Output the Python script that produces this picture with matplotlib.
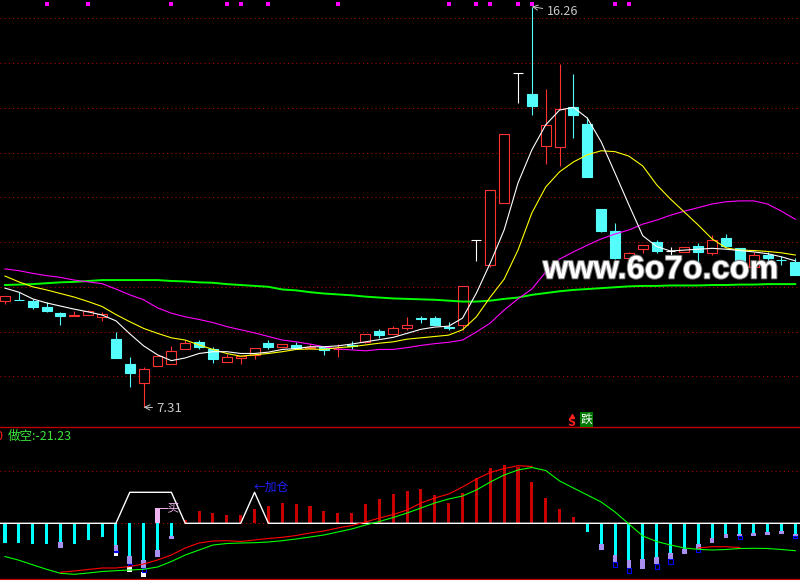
import numpy as np
import matplotlib
matplotlib.use("Agg")
import matplotlib.pyplot as plt
import matplotlib.patheffects as pe
from matplotlib.patches import Rectangle
from matplotlib.lines import Line2D

plt.rcParams['font.family'] = ['Noto Sans CJK SC', 'DejaVu Sans']

# ---- price panel: daily candles ----
opens = [9.69, 9.71, 9.69, 9.55, 9.42, 9.35, 9.36, 9.33, 8.83, 8.28,
         7.84, 8.24, 8.28, 8.60, 8.76, 8.60, 8.31, 8.40, 8.47, 8.74,
         8.66, 8.69, 8.64, 8.66, 8.60, 8.69, 8.77, 9.01, 8.94, 9.09,
         9.30, 9.30, 9.10, 9.14, 11.05, 10.48, 11.87, 14.77, 14.31, 13.15,
         13.13, 14.01, 13.64, 11.73, 11.25, 10.65, 10.85, 11.00, 10.80, 10.77,
         10.91, 10.75, 11.09, 10.87, 10.44, 10.71, 10.60, 10.56]
highs = [9.79, 9.88, 9.72, 9.67, 9.44, 9.46, 9.48, 9.44, 9.00, 8.43,
         8.21, 8.45, 8.67, 8.80, 8.80, 8.65, 8.50, 8.45, 8.64, 8.80,
         8.73, 8.76, 8.72, 8.66, 8.72, 8.79, 8.94, 9.05, 9.12, 9.32,
         9.35, 9.35, 9.21, 10.02, 11.05, 12.16, 13.41, 14.77, 16.26, 14.42,
         14.98, 14.76, 13.79, 11.73, 11.42, 10.78, 10.93, 11.05, 10.90, 10.88,
         10.97, 11.16, 11.18, 10.87, 10.78, 10.78, 10.69, 10.64]
lows = [9.61, 9.70, 9.50, 9.44, 9.15, 9.35, 9.36, 9.24, 8.42, 7.75,
        7.31, 8.24, 8.28, 8.60, 8.60, 8.30, 8.31, 8.28, 8.38, 8.60,
        8.66, 8.60, 8.60, 8.47, 8.43, 8.60, 8.74, 8.85, 8.94, 9.04,
        9.20, 9.15, 9.04, 9.04, 10.58, 10.45, 11.87, 14.11, 13.84, 12.75,
        12.71, 13.33, 12.46, 11.22, 10.62, 10.60, 10.76, 10.75, 10.69, 10.77,
        10.53, 10.70, 10.90, 10.56, 10.44, 10.58, 10.48, 10.27]
closes = [9.79, 9.70, 9.55, 9.47, 9.35, 9.36, 9.45, 9.39, 8.42, 8.08,
          8.16, 8.45, 8.56, 8.74, 8.66, 8.39, 8.43, 8.45, 8.64, 8.65,
          8.72, 8.64, 8.65, 8.59, 8.61, 8.68, 8.94, 8.92, 9.07, 9.14,
          9.27, 9.15, 9.09, 10.02, 11.05, 12.16, 13.41, 14.77, 14.03, 13.61,
          13.97, 13.85, 12.46, 11.25, 10.65, 10.75, 10.93, 10.81, 10.80, 10.88,
          10.77, 11.05, 10.91, 10.58, 10.70, 10.65, 10.59, 10.27]

ma5 = [9.97, 9.88, 9.73, 9.64, 9.57, 9.50, 9.44, 9.37, 9.24, 8.95,
       8.68, 8.48, 8.35, 8.41, 8.51, 8.55, 8.55, 8.51, 8.51, 8.54,
       8.60, 8.62, 8.66, 8.66, 8.68, 8.72, 8.77, 8.82, 8.87, 8.96,
       9.05, 9.10, 9.12, 9.30, 9.86, 10.53, 11.27, 12.32, 13.06, 13.62,
       13.95, 14.01, 13.77, 13.24, 12.54, 11.83, 11.14, 10.90, 10.80, 10.82,
       10.84, 10.86, 10.84, 10.81, 10.78, 10.74, 10.67, 10.58]
ma10 = [10.24, 10.11, 10.00, 9.93, 9.85, 9.77, 9.67, 9.56, 9.38, 9.22,
        9.07, 8.96, 8.86, 8.81, 8.70, 8.60, 8.51, 8.45, 8.48, 8.51,
        8.55, 8.60, 8.61, 8.60, 8.64, 8.66, 8.70, 8.74, 8.77, 8.83,
        8.86, 8.89, 8.92, 9.04, 9.33, 9.77, 10.17, 10.82, 11.65, 12.23,
        12.57, 12.79, 12.95, 13.04, 13.02, 12.92, 12.70, 12.28, 11.96, 11.67,
        11.38, 11.07, 10.87, 10.82, 10.81, 10.79, 10.76, 10.71]
ma20 = [10.40, 10.36, 10.30, 10.25, 10.21, 10.15, 10.11, 10.07, 9.95, 9.82,
        9.71, 9.53, 9.41, 9.33, 9.27, 9.20, 9.11, 9.04, 8.97, 8.89,
        8.81, 8.77, 8.72, 8.66, 8.61, 8.59, 8.57, 8.60, 8.60, 8.64,
        8.69, 8.73, 8.76, 8.81, 8.99, 9.19, 9.48, 9.73, 9.95, 10.33,
        10.62, 10.78, 10.93, 11.07, 11.18, 11.27, 11.40, 11.49, 11.60, 11.69,
        11.77, 11.85, 11.90, 11.92, 11.92, 11.85, 11.69, 11.51]
ma60 = [10.04, 10.05, 10.06, 10.08, 10.10, 10.11, 10.13, 10.15, 10.15, 10.15,
        10.15, 10.15, 10.13, 10.12, 10.10, 10.09, 10.06, 10.04, 10.02, 10.00,
        9.94, 9.92, 9.88, 9.85, 9.83, 9.81, 9.78, 9.76, 9.74, 9.73,
        9.72, 9.71, 9.69, 9.67, 9.67, 9.69, 9.73, 9.76, 9.82, 9.86,
        9.90, 9.93, 9.95, 9.97, 9.99, 10.01, 10.02, 10.02, 10.03, 10.03,
        10.03, 10.04, 10.04, 10.05, 10.05, 10.06, 10.06, 10.06]

grid_prices = [8, 9, 10, 11, 12, 13, 14, 15, 16]
top_marks = [3, 6, 12, 16, 17, 19, 24, 32, 34, 35, 37, 38, 44, 45]
hi_idx, lo_idx = 38, 10

# ---- indicator panel ----
hist_up = [0, 0, 0, 0, 0, 0, 0, 0, 0, 0, 0, 0, 0, 3.0, 12.3, 10.0, 8.3, 8.3, 14.3, 17.3,
           20.3, 19.3, 17.3, 12.3, 10.3, 10.3, 19.3, 24.3, 29.3, 32.3,
           34.3, 28.3, 20.3, 30.3, 45.3, 55.3, 58.3, 56.3, 41.3, 25.3,
           14.3, 6.3, 0, 0, 0, 0, 0, 0, 0, 0, 0, 0, 0, 0, 0, 0, 0, 0]
hist_down = [19.4, 19.4, 20.4, 20.4, 18.4, 20.4, 16.4, 13.4, 21.7, 32.7,
             36.7, 26.7, 12.4, 0, 0, 0, 0, 0, 0, 0,
             0, 0, 0, 0, 0, 0, 0, 0, 0, 0,
             0, 0, 0, 0, 0, 0, 0, 0, 0, 0,
             0, 0, 8.4, 20.7, 31.7, 36.7, 35.7, 33.7, 29.7, 25.4,
             20.7, 14.7, 10.7, 10.7, 9.7, 8.7, 7.7, 10.7]
hist_purple = [0, 0, 0, 0, 6.0, 0, 0, 0, 5.7, 8.0,
               8.3, 6.7, 3.6, 0, 0, 0, 0, 0, 0, 0,
               0, 0, 0, 0, 0, 0, 0, 0, 0, 0,
               0, 0, 0, 0, 0, 0, 0, 0, 0, 0,
               0, 0, 0, 6.0, 7.3, 8.0, 10.0, 7.0, 6.0, 5.3,
               5.3, 4.7, 3.7, 2.0, 2.7, 2.7, 2.7, 2.0]
hist_blue = [0, 0, 0, 0, 0, 0, 0, 0, 1.3, 2.0,
             3.4, 0, 0, 0, 0, 0, 0, 0, 0, 0,
             0, 0, 0, 0, 0, 0, 0, 0, 0, 0,
             0, 0, 0, 0, 0, 0, 0, 0, 0, 0,
             0, 0, 0, 0, 4.4, 4.7, 0, 5.0, 4.7, 0,
             2.4, 0, 0, 2.7, 0, 0, 0, 1.5]
hist_white = [0, 0, 0, 0, 0, 0, 0, 0, 3.7, 5.7, 5.0] + [0] * 47
buy_idx, buy_height = 11, 15.3
signal = [0, 0, 0, 0, 0, 0, 0, 0, 0, 31, 31, 31, 31, 0, 0, 0, 0, 0, 31, 0] + [0] * 38
slow_line = [-33.2, -36.9, -41.5, -46.0, -50.0, -51.0, -49.7, -48.2, -47.4, -46.7,
             -46.0, -43.7, -38.2, -31.7, -26.7, -21.7, -20.2, -19.7, -19.4, -18.7,
             -17.4, -15.7, -13.7, -11.7, -8.7, -5.7, -1.7, 1.8, 5.8, 10.3,
             15.3, 20.3, 24.3, 27.3, 33.3, 41.3, 48.3, 53.3, 55.8, 52.8,
             42.3, 35.3, 28.3, 21.3, 11.3, -0.7, -12.7, -18.2, -21.7, -24.7,
             -26.0, -26.7, -26.2, -25.2, -25.0, -25.2, -26.2, -27.4]
nan = np.nan
fast_line = [nan, nan, nan, nan, -49.0, -47.7, -46.2, -44.7, -44.7, -43.2,
             -40.7, -36.7, -31.7, -24.7, -19.7, -17.7, -17.4, -18.2, -16.7, -15.2,
             -14.0, -12.2, -9.7, -7.7, -4.7, -2.2, 1.3, 5.3, 8.8, 13.3,
             20.3, 25.3, 29.3, 36.3, 44.3, 50.8, 54.8, 57.6, 56.8, nan,
             nan, nan, nan, nan, nan, nan, nan, nan, nan, nan,
             -24.7, -23.4, -23.4, -24.2, nan, nan, nan, nan]
short_text = "做空:-21.23"

# ---- colours ----
RED = '#FF3232'
CYAN = '#54FCFC'
GRID = '#B40000'
LABEL = '#C8C8C8'

W, H = 800, 580
PANEL_Y = 427


def fx(px):
    return px / W


def fy(py):
    return 1 - py / H


n = len(closes)
idx = np.arange(n)
X0, X1 = -0.36, 57.34

fig = plt.figure(figsize=(8, 5.8), dpi=100, facecolor='black')
ax = fig.add_axes([0, 1 - PANEL_Y / H, 1, PANEL_Y / H])
bx = fig.add_axes([0, 0, 1, 1 - PANEL_Y / H])
for a in (ax, bx):
    a.set_facecolor('black')
    a.set_xlim(X0, X1)
    a.set_axis_off()
ax.set_ylim(6.867, 16.409)
bx.set_ylim(-56.7, 96.3)

# grid
for p in grid_prices:
    ax.axhline(p, color=GRID, lw=0.75, ls=(0, (1, 3)), zorder=1)

# candles
body_w = 0.72
for i in range(n):
    o, h, l, c = opens[i], highs[i], lows[i], closes[i]
    if c > o:
        col, face = RED, 'black'
    elif c < o:
        col, face = CYAN, CYAN
    else:
        col, face = 'white', 'white'
    ax.vlines(i, l, h, color=col, lw=0.8, zorder=2)
    if c == o:
        ax.hlines(o, i - body_w / 2, i + body_w / 2, color=col, lw=0.8, zorder=2.5)
    else:
        ax.add_patch(Rectangle((i - body_w / 2, min(o, c)), body_w, abs(c - o),
                               facecolor=face, edgecolor=col, lw=0.8, zorder=2.5))

# moving averages
ax.plot(idx, ma60, color='#00FF00', lw=1.4, zorder=3)
ax.plot(idx, ma20, color='#FF00FF', lw=0.8, zorder=3)
ax.plot(idx, ma10, color='#FFFF00', lw=0.8, zorder=3)
ax.plot(idx, ma5, color='white', lw=0.8, zorder=3)

# signal squares along the top
ax.scatter(top_marks, [0.99] * len(top_marks), transform=ax.get_xaxis_transform(),
           marker='s', s=6, color='#FF00FF', linewidths=0, clip_on=False, zorder=4)

# high / low labels
ax.annotate(f"{highs[hi_idx]:.2f}", xy=(hi_idx, highs[hi_idx]), xytext=(15, -5),
            textcoords='offset pixels', ha='left', va='center', color=LABEL, fontsize=9,
            arrowprops=dict(arrowstyle='->', color=LABEL, lw=0.7, shrinkA=1, shrinkB=0))
ax.annotate(f"{lows[lo_idx]:.2f}", xy=(lo_idx, lows[lo_idx]), xytext=(13, -1),
            textcoords='offset pixels', ha='left', va='center', color=LABEL, fontsize=9.5,
            arrowprops=dict(arrowstyle='->', color=LABEL, lw=0.7, shrinkA=1, shrinkB=0))

# watermark
fig.text(fx(543), fy(278.3), "www.6o7o.com", family='Liberation Sans', weight='bold',
         fontsize=23.4, color='white', ha='left', va='baseline', zorder=10,
         path_effects=[pe.withStroke(linewidth=1.5, foreground='#808080')])

# ---- indicator panel ----
bx.axhline(0, color=GRID, lw=0.75, ls=(0, (1, 3)), zorder=1)
bx.axhline(52, color=GRID, lw=0.75, ls=(0, (1, 3)), zorder=1)

up = np.array(hist_up)
down = np.array(hist_down)
purple = np.array(hist_purple)
blue = np.array(hist_blue)
white = np.array(hist_white)

m = up > 0
bx.bar(idx[m], up[m], width=0.22, color='#C80000', zorder=2)
m = down > 0
bx.bar(idx[m], -down[m], width=0.22, color='#00FFFF', zorder=2)
m = purple > 0
bx.bar(idx[m], -purple[m], bottom=-down[m], width=0.34, color='#A890F0', zorder=2)
base = -(down + purple)
m = white > 0
bx.bar(idx[m], -white[m], bottom=(base - blue)[m], width=0.34, color='white', zorder=2)
m = blue > 0
bx.bar(idx[m], -blue[m], bottom=base[m], width=0.3, fill=False,
       edgecolor='#0000FF', lw=0.8, zorder=2.2)
bx.bar([buy_idx], [buy_height], width=0.36, color='#F0B4F0', zorder=2)

bx.plot(np.r_[X0, idx, X1], np.r_[0, signal, 0], color='white', lw=1.0, zorder=3)
bx.plot(idx, slow_line, color='#00FF00', lw=0.8, zorder=4)
bx.plot(idx, fast_line, color='#FF0000', lw=0.8, zorder=4)

# panel borders
for py in (426.7, 579.3):
    fig.add_artist(Line2D([0, 1], [fy(py), fy(py)], transform=fig.transFigure,
                          color='#C00000', lw=1.0))

# texts
fig.text(fx(2), fy(436), "0", color='#FF2020', fontsize=9, ha='right', va='center')
fig.text(fx(8), fy(436), short_text, color='#3CE63C', fontsize=9, ha='left', va='center')
fig.text(fx(157), fy(508), "—买", color='#F0B4F0', fontsize=8.5, ha='left', va='center')
fig.text(fx(254), fy(487), "←加仓", color='#2020FF', fontsize=8.5, ha='left', va='center')
fig.text(fx(571.5), fy(422), "S", color='#FF2020', fontsize=9, weight='bold',
         ha='center', va='center')
fig.add_artist(Line2D([fx(571.5)], [fy(415.5)], transform=fig.transFigure,
                      marker='^', markersize=3, color='#FF2020', lw=0))
fig.text(fx(586.5), fy(419.5), "跌", color='white', fontsize=8.5, ha='center', va='center',
         bbox=dict(boxstyle='square,pad=0.08', fc='#007800', ec='none'))

fig.savefig("out.png", dpi=100, facecolor='black')
